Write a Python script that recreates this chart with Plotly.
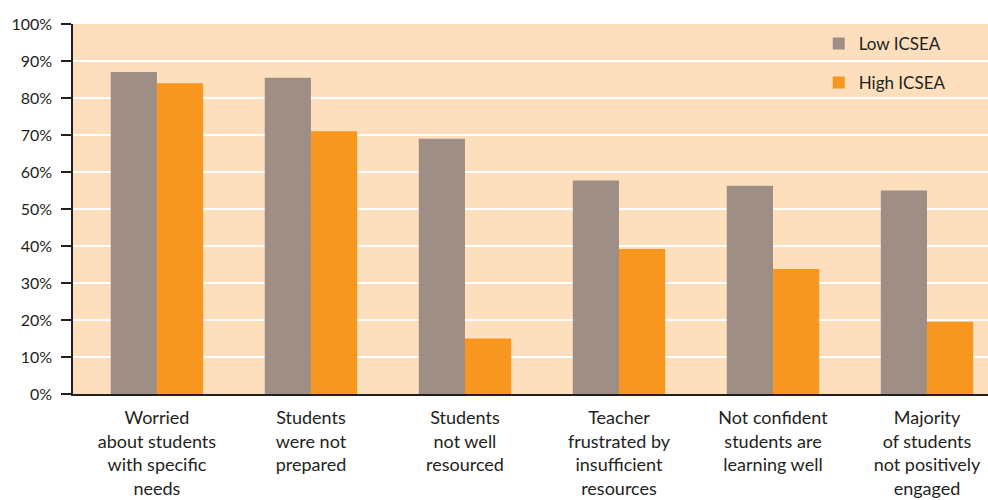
import plotly.graph_objects as go

categories = [
    "Worried<br>about students<br>with specific<br>needs",
    "Students<br>were not<br>prepared",
    "Students<br>not well<br>resourced",
    "Teacher<br>frustrated by<br>insufficient<br>resources",
    "Not confident<br>students are<br>learning well",
    "Majority<br>of students<br>not positively<br>engaged",
]
low_icsea = [87, 85.5, 69, 57.7, 56.3, 55]
high_icsea = [84, 71, 15, 39.2, 33.8, 19.5]
y_ticks = [0, 10, 20, 30, 40, 50, 60, 70, 80, 90, 100]
y_tick_labels = [f"{v}%" for v in y_ticks]

FONT = "Lato, 'DejaVu Sans', sans-serif"
x_pos = list(range(len(categories)))

fig = go.Figure()
fig.add_trace(go.Bar(x=x_pos, y=low_icsea, name="Low ICSEA",
                     marker=dict(color="#9E8E85", line=dict(width=0)),
                     legendgroup="a"))
fig.add_trace(go.Bar(x=x_pos, y=high_icsea, name="High ICSEA",
                     marker=dict(color="#F7971F", line=dict(width=0)),
                     legendgroup="b"))

fig.update_layout(
    width=988, height=500,
    margin=dict(l=73, r=0, t=24, b=106),
    paper_bgcolor="white",
    plot_bgcolor="#FDDFBE",
    barmode="group",
    bargap=0.4,
    bargroupgap=0,
    font=dict(family=FONT, color="#231F20"),
    showlegend=True,
    legend=dict(x=0.815, y=0.995, xanchor="left", yanchor="top",
                bgcolor="rgba(0,0,0,0)", font=dict(size=17, color="#231F20"),
                tracegroupgap=14, itemwidth=30),
    xaxis=dict(
        range=[-0.545, 5.396],
        tickvals=x_pos, ticktext=categories,
        tickfont=dict(size=18, color="#231F20"),
        ticklabelstandoff=7,
        showgrid=False, zeroline=False,
        showline=True, linecolor="#231F20", linewidth=1.5,
        ticks="",
    ),
    yaxis=dict(
        range=[0, 100],
        tickmode="array",
        tickvals=y_ticks, ticktext=y_tick_labels,
        tickfont=dict(size=16, color="#231F20"),
        ticklabelstandoff=6,
        showgrid=True, gridcolor="white", gridwidth=2,
        zeroline=False,
        showline=True, linecolor="#231F20", linewidth=1.5,
        ticks="outside", ticklen=10, tickcolor="#231F20", tickwidth=1.5,
    ),
)

fig.write_html("out.html")
